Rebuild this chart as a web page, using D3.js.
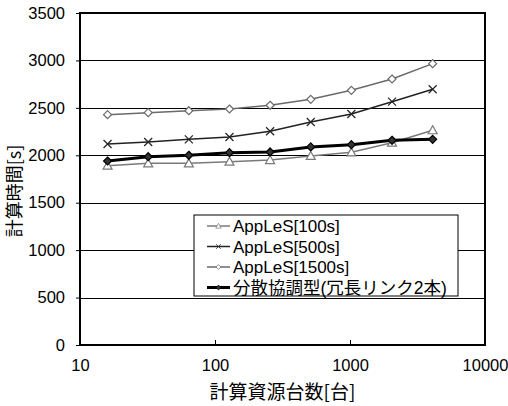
<!DOCTYPE html>
<html>
<head>
<meta charset="utf-8">
<script src="https://cdn.jsdelivr.net/npm/d3@7"></script>
<style>
  body { margin: 0; background: #fff; }
  svg text { font-family: "Liberation Sans", Arial, "Noto Sans CJK JP", sans-serif; }
  .jp { font-family: "Noto Sans CJK JP", sans-serif; }
</style>
</head>
<body>
<div id="chart"></div>
<script>
// data
const nodes = [16, 32, 64, 128, 256, 512, 1024, 2048, 4096];
const apples100 = [1890, 1915, 1915, 1933, 1950, 1993, 2031, 2133, 2264];
const apples500 = [2119, 2140, 2168, 2193, 2253, 2351, 2435, 2565, 2696];
const apples1500 = [2428, 2449, 2470, 2488, 2527, 2590, 2685, 2804, 2966];
const distributed = [1940, 1985, 2000, 2028, 2035, 2088, 2112, 2158, 2168];
const xTicks = [10, 100, 1000, 10000];
const yTicks = [0, 500, 1000, 1500, 2000, 2500, 3000, 3500];

const seriesNames = ['AppLeS[100s]', 'AppLeS[500s]', 'AppLeS[1500s]', '分散協調型(冗長リンク2本)'];
const seriesValues = [apples100, apples500, apples1500, distributed];

// styles per series
const styles = [
  { color: '#7a7a7a', width: 1.5, marker: 'triangle' },
  { color: '#222', width: 1.5, marker: 'cross' },
  { color: '#6a6a6a', width: 1.5, marker: 'diamond' },
  { color: '#000', width: 3, marker: 'dot' }
];

const W = 508, H = 406;
const margin = { left: 80, right: 23, top: 13, bottom: 61 };

const svg = d3.select('#chart').append('svg')
  .attr('width', W)
  .attr('height', H);

const x = d3.scaleLog()
  .domain([10, 10000])
  .range([margin.left, W - margin.right]);

const y = d3.scaleLinear()
  .domain([0, 3500])
  .range([H - margin.bottom, margin.top]);

// gridlines
svg.append('g')
  .selectAll('line')
  .data(yTicks.filter(d => d > 0 && d < 3500))
  .join('line')
  .attr('x1', x(10))
  .attr('x2', x(10000))
  .attr('y1', d => Math.round(y(d)) + 0.5)
  .attr('y2', d => Math.round(y(d)) + 0.5)
  .attr('stroke', '#000')
  .attr('stroke-width', 1);

// y axis (ticks outside)
const yAxis = svg.append('g')
  .attr('transform', `translate(${x(10)},0)`)
  .call(d3.axisLeft(y).tickValues(yTicks).tickSize(4).tickPadding(11).tickFormat(d3.format('d')));
yAxis.select('.domain').remove();
yAxis.selectAll('text').attr('font-size', 16.5).attr('fill', '#000');
yAxis.selectAll('line').attr('stroke', '#000');

// x axis (ticks inside)
const xAxis = svg.append('g')
  .attr('transform', `translate(0,${y(0)})`)
  .call(d3.axisBottom(x).tickValues(xTicks).tickSizeInner(-5).tickSizeOuter(0).tickPadding(14).tickFormat(d3.format('d')));
xAxis.select('.domain').remove();
xAxis.selectAll('text').attr('font-size', 16.5).attr('fill', '#000');
xAxis.selectAll('line').attr('stroke', '#000');

// frame
svg.append('rect')
  .attr('x', x(10))
  .attr('y', y(3500))
  .attr('width', x(10000) - x(10))
  .attr('height', y(0) - y(3500))
  .attr('fill', 'none')
  .attr('stroke', '#000')
  .attr('stroke-width', 2);

function drawMarker(g, type, color, cx, cy) {
  if (type === 'triangle') {
    g.append('path')
      .attr('d', `M${cx},${cy - 4.5} L${cx + 4.5},${cy + 3.5} L${cx - 4.5},${cy + 3.5} Z`)
      .attr('fill', '#fff').attr('stroke', color).attr('stroke-width', 1.2);
  } else if (type === 'cross') {
    g.append('path')
      .attr('d', `M${cx - 4},${cy - 4} L${cx + 4},${cy + 4} M${cx - 4},${cy + 4} L${cx + 4},${cy - 4}`)
      .attr('stroke', color).attr('stroke-width', 1.2);
  } else if (type === 'diamond') {
    g.append('path')
      .attr('d', `M${cx},${cy - 4} L${cx + 4},${cy} L${cx},${cy + 4} L${cx - 4},${cy} Z`)
      .attr('fill', '#fff').attr('stroke', color).attr('stroke-width', 1.2);
  } else {
    g.append('path')
      .attr('d', `M${cx},${cy - 4} L${cx + 4},${cy} L${cx},${cy + 4} L${cx - 4},${cy} Z`)
      .attr('fill', '#333').attr('stroke', '#000').attr('stroke-width', 1.2);
  }
}

const line = d3.line()
  .x((d, i) => x(nodes[i]))
  .y(d => y(d));

seriesValues.forEach((vals, s) => {
  const st = styles[s];
  const g = svg.append('g');
  g.append('path')
    .datum(vals)
    .attr('d', line)
    .attr('fill', 'none')
    .attr('stroke', st.color)
    .attr('stroke-width', st.width);
  vals.forEach((v, i) => drawMarker(g, st.marker, st.color, x(nodes[i]), y(v)));
});

// legend
const legend = svg.append('g').attr('transform', 'translate(194,215)');
legend.append('rect')
  .attr('width', 264)
  .attr('height', 81)
  .attr('fill', '#fff')
  .attr('stroke', '#000')
  .attr('stroke-width', 1);

seriesNames.forEach((name, i) => {
  const st = styles[i];
  const ly = 11 + i * 20.5;
  const lg = legend.append('g');
  lg.append('line')
    .attr('x1', 13).attr('x2', 36)
    .attr('y1', ly).attr('y2', ly)
    .attr('stroke', st.color)
    .attr('stroke-width', st.width);
  const mg = lg.append('g').attr('transform', `translate(24.5,${ly}) scale(0.6) translate(-24.5,${-ly})`);
  drawMarker(mg, st.marker, st.color, 24.5, ly);
  lg.append('text')
    .attr('x', 39)
    .attr('y', ly)
    .attr('dy', '0.36em')
    .attr('font-size', i === 3 ? 17.5 : 17)
    .text(name);
});

// axis titles
svg.append('text')
  .attr('class', 'jp')
  .attr('x', (x(10) + x(10000)) / 2)
  .attr('y', 392)
  .attr('dy', '0.35em')
  .attr('text-anchor', 'middle')
  .attr('font-size', 19)
  .text('計算資源台数[台]');

svg.append('text')
  .attr('class', 'jp')
  .attr('transform', 'translate(15,191) rotate(-90)')
  .attr('dy', '0.35em')
  .attr('text-anchor', 'middle')
  .attr('font-size', 18)
  .text('計算時間[s]');
</script>
</body>
</html>
